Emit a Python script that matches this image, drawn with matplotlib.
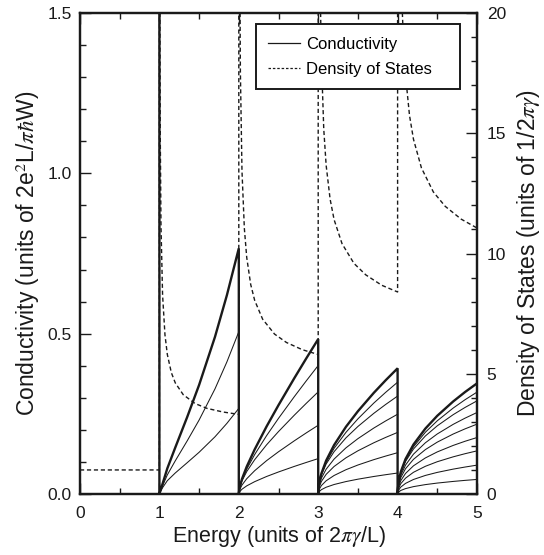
import matplotlib
matplotlib.use("Agg")
import matplotlib.pyplot as plt
from matplotlib.ticker import MultipleLocator
from matplotlib.lines import Line2D

plt.rcParams['font.family'] = ['Liberation Sans', 'DejaVu Sans']
plt.rcParams['mathtext.fontset'] = 'stix'

# ---------------- data ----------------
# offsets inside each band interval [n, n+1]
t = [0, 0.01, 0.04, 0.1, 0.2, 0.35, 0.5, 0.7, 0.85, 1.0]
band_starts = [1, 2, 3, 4]

# conductivity just below the first band edge is off-scale (divergent)
cond_edge_value = 2.0

# total conductivity (thick) in each band interval
cond_total_1 = [0, 0.008, 0.032, 0.08, 0.145, 0.24, 0.34, 0.49, 0.62, 0.766]
cond_total_2 = [0, 0.0203, 0.0468, 0.0855, 0.139, 0.2107, 0.2771, 0.3616, 0.423, 0.483]
cond_total_3 = [0, 0.0309, 0.0637, 0.1041, 0.1526, 0.2097, 0.2581, 0.3154, 0.3548, 0.392]
cond_total_4 = [0, 0.0345, 0.069, 0.1091, 0.1543, 0.2041, 0.244, 0.2886, 0.3181, 0.345]

# partial sums of mode contributions (thin lines)
cond_partial_1 = [
    [0, 0.006, 0.0197, 0.0416, 0.0656, 0.0976, 0.1301, 0.1784, 0.2203, 0.267],
    [0, 0.0069, 0.0255, 0.0598, 0.1035, 0.1657, 0.2306, 0.3278, 0.4119, 0.506],
]
cond_partial_2 = [
    [0, 0.0069, 0.0149, 0.0254, 0.0385, 0.0546, 0.0687, 0.0861, 0.0984, 0.1104],
    [0, 0.0129, 0.0279, 0.0477, 0.0727, 0.104, 0.1317, 0.166, 0.1906, 0.2144],
    [0, 0.0189, 0.0409, 0.07, 0.107, 0.1534, 0.1947, 0.246, 0.2828, 0.3185],
    [0, 0.0196, 0.0439, 0.0778, 0.123, 0.182, 0.2359, 0.3038, 0.3529, 0.4007],
]
cond_partial_3 = [
    [0, 0.0068, 0.0135, 0.0211, 0.0296, 0.0388, 0.0462, 0.0546, 0.0602, 0.0654],
    [0, 0.0132, 0.0263, 0.0412, 0.0577, 0.0758, 0.0904, 0.1071, 0.1183, 0.1288],
    [0, 0.0196, 0.039, 0.0612, 0.0858, 0.1129, 0.1347, 0.1597, 0.1765, 0.1921],
    [0, 0.0247, 0.0492, 0.0773, 0.1089, 0.144, 0.1726, 0.2056, 0.2279, 0.2488],
    [0, 0.0298, 0.0593, 0.0935, 0.132, 0.1752, 0.2105, 0.2515, 0.2793, 0.3054],
    [0, 0.0303, 0.0615, 0.0988, 0.1423, 0.1924, 0.2343, 0.2835, 0.3171, 0.3487],
]
cond_partial_4 = [
    [0, 0.0056, 0.011, 0.0168, 0.023, 0.0293, 0.0341, 0.0392, 0.0425, 0.0454],
    [0, 0.0111, 0.0216, 0.0331, 0.0453, 0.0579, 0.0674, 0.0776, 0.0841, 0.09],
    [0, 0.0165, 0.0322, 0.0494, 0.0677, 0.0864, 0.1007, 0.1159, 0.1257, 0.1345],
    [0, 0.0214, 0.0417, 0.0641, 0.0879, 0.1125, 0.1313, 0.1515, 0.1645, 0.1761],
    [0, 0.0262, 0.0512, 0.0788, 0.1081, 0.1385, 0.1618, 0.187, 0.2032, 0.2178],
    [0, 0.03, 0.0586, 0.0903, 0.1242, 0.1598, 0.1873, 0.2172, 0.2366, 0.2541],
    [0, 0.0337, 0.0659, 0.1017, 0.1403, 0.181, 0.2127, 0.2474, 0.27, 0.2905],
    [0, 0.0341, 0.0675, 0.1054, 0.1473, 0.1926, 0.2284, 0.268, 0.2941, 0.3177],
]

cond_totals = [cond_total_1, cond_total_2, cond_total_3, cond_total_4]
cond_partials = [cond_partial_1, cond_partial_2, cond_partial_3, cond_partial_4]

# density of states (dashed); 40 marks off-scale (divergent) values at band edges
dos_energy = [0, 1, 1,
              1.005, 1.01, 1.02, 1.04, 1.07, 1.1, 1.15, 1.2, 1.3, 1.45, 1.6, 1.8, 2.0,
              2.0, 2.01, 2.02, 2.04, 2.07, 2.1, 2.15, 2.2, 2.3, 2.45, 2.6, 2.8, 3.0,
              3.0, 3.02, 3.03, 3.04, 3.07, 3.1, 3.15, 3.2, 3.3, 3.45, 3.6, 3.8, 4.0,
              4.0, 4.04, 4.06, 4.07, 4.1, 4.15, 4.2, 4.3, 4.45, 4.6, 4.8, 5.0]
dos_value = [1, 1, 40,
             21.1, 15.25, 11.15, 8.28, 6.62, 5.80, 5.05, 4.62, 4.13, 3.76, 3.56, 3.41, 3.31,
             40, 23.4, 17.55, 13.44, 11.04, 9.83, 8.71, 8.05, 7.27, 6.65, 6.30, 6.00, 5.80,
             40, 23.2, 20.03, 18.14, 15.17, 13.67, 12.26, 11.41, 10.41, 9.59, 9.11, 8.68, 8.40,
             40, 22.6, 20.0, 19.15, 17.40, 15.74, 14.75, 13.56, 12.56, 11.96, 11.43, 11.06]

x_ticks = [0, 1, 2, 3, 4, 5]

# ---------------- plot ----------------
INK = '#1a1a1a'
fig = plt.figure(figsize=(5.44, 5.55), dpi=100)
ax = fig.add_axes([80 / 544, 61 / 555, 397 / 544, 481 / 555])
ax2 = ax.twinx()

thick_lw = 1.7
thin_lw = 0.75

# thick total conductivity as one continuous line
thick_x = [band_starts[0]]
thick_y = [cond_edge_value]
for n, tot in zip(band_starts, cond_totals):
    thick_x += [n + ti for ti in t]
    thick_y += tot
ax.plot(thick_x, thick_y, color=INK, lw=thick_lw, solid_joinstyle='miter', zorder=4)

for n, parts in zip(band_starts, cond_partials):
    xs = [n + ti for ti in t]
    for p in parts:
        ax.plot(xs, p, color=INK, lw=thin_lw, zorder=3)

ax2.plot(dos_energy, dos_value, color=INK, lw=1.0, dashes=(3, 2), zorder=2)

ax.set_xlim(0, 5)
ax.set_ylim(0, 1.5)
ax2.set_ylim(0, 20)

ax.set_xticks(x_ticks)
ax.xaxis.set_minor_locator(MultipleLocator(0.5))
ax.yaxis.set_major_locator(MultipleLocator(0.5))
ax.yaxis.set_minor_locator(MultipleLocator(0.1))
ax2.yaxis.set_major_locator(MultipleLocator(5))
ax2.yaxis.set_minor_locator(MultipleLocator(1))

ax.tick_params(axis='x', which='both', direction='in', top=True, bottom=True,
               labelsize=12.5, pad=9, colors=INK)
ax.tick_params(axis='y', which='both', direction='in', left=True, right=False,
               labelsize=12.5, pad=6, colors=INK)
ax2.tick_params(axis='y', which='both', direction='in', right=True, left=False,
                labelsize=12.5, pad=7, colors=INK)
for a in (ax, ax2):
    a.tick_params(which='major', length=8, width=1.0)
    a.tick_params(which='minor', length=4.5, width=1.0)
    for s in a.spines.values():
        s.set_linewidth(1.6)
        s.set_color(INK)

ax.set_xlabel(r'Energy (units of 2$\pi\gamma$/L)', fontsize=15.5, labelpad=2, color=INK)
ax.set_ylabel(r'Conductivity (units of 2e$^2$L/$\pi\hbar$W)', fontsize=16.5, labelpad=4,
              color=INK)
ax2.set_ylabel(r'Density of States (units of 1/2$\pi\gamma$)', fontsize=16.5, labelpad=6,
               color=INK)

handles = [Line2D([], [], color=INK, lw=0.9),
           Line2D([], [], color=INK, lw=0.9, dashes=(2, 1.5))]
leg = ax2.legend(handles, ['Conductivity', 'Density of States'],
                 loc='upper left', bbox_to_anchor=(0.4433, 0.8415, 0.514, 0.135),
                 mode='expand', borderaxespad=0,
                 fontsize=12, frameon=True, fancybox=False, framealpha=1,
                 edgecolor=INK, handlelength=1.9, handletextpad=0.35,
                 borderpad=0.75, labelspacing=0.6)
leg.get_frame().set_linewidth(1.4)

fig.savefig('out.png', dpi=100)
